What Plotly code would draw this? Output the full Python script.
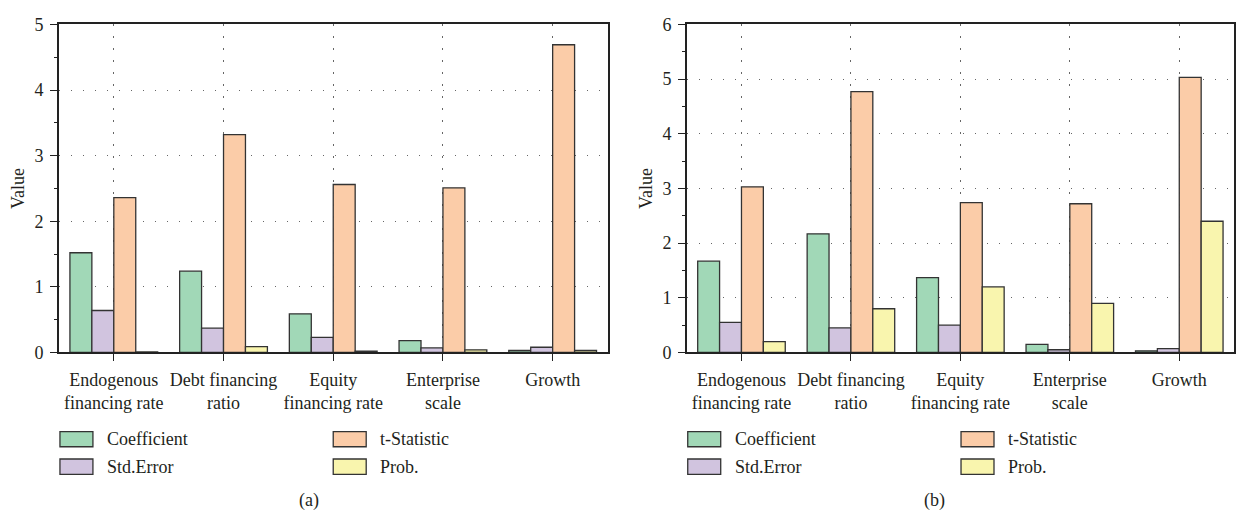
import plotly.graph_objects as go

# Regression variables shown on the category axis
categories = ["Endogenous financing rate", "Debt financing ratio",
              "Equity financing rate", "Enterprise scale", "Growth"]
tick_labels = ["Endogenous<br>financing rate", "Debt financing<br>ratio",
               "Equity<br>financing rate", "Enterprise<br>scale", "Growth"]

series_names = ["Coefficient", "Std.Error", "t-Statistic", "Prob."]

# Panel (a)
coef_a = [1.52, 1.24, 0.59, 0.18, 0.03]
se_a = [0.64, 0.37, 0.23, 0.07, 0.08]
t_a = [2.36, 3.32, 2.56, 2.51, 4.69]
p_a = [0.01, 0.09, 0.02, 0.04, 0.03]

# Panel (b)
coef_b = [1.67, 2.17, 1.37, 0.15, 0.03]
se_b = [0.55, 0.45, 0.50, 0.05, 0.07]
t_b = [3.03, 4.77, 2.74, 2.72, 5.03]
p_b = [0.20, 0.80, 1.20, 0.90, 2.40]

colors = ["#a1d8b7", "#d1c4df", "#fbcca8", "#f9f5ae"]
edge = "#333333"
ink = "#231f20"
FONT = "Liberation Serif"

W, H = 1236, 527


def px_x(v):
    return v / W


def px_y(v):
    return 1 - v / H


fig = go.Figure()

panels = [
    ("x", "y", [coef_a, se_a, t_a, p_a]),
    ("x2", "y2", [coef_b, se_b, t_b, p_b]),
]
for xa, ya, values in panels:
    for name, vals, col in zip(series_names, values, colors):
        fig.add_trace(go.Bar(
            x=categories, y=vals, name=name, xaxis=xa, yaxis=ya,
            marker=dict(color=col, line=dict(color=edge, width=1.3)),
            showlegend=False,
        ))

common_x = dict(
    type="category", categoryorder="array", categoryarray=categories,
    tickmode="array", tickvals=categories, ticktext=tick_labels,
    range=[-0.5, 4.5],
    showline=True, mirror=True, linecolor="#222", linewidth=1.5,
    ticks="outside", ticklen=7, tickcolor="#222", tickwidth=1.3,
    ticklabelstandoff=3,
    showgrid=True, gridcolor="#666", gridwidth=1.3, griddash="1.5px,10.5px",
    tickfont=dict(family=FONT, size=18, color=ink),
    zeroline=False,
)
common_y = dict(
    showline=True, mirror=True, linecolor="#222", linewidth=1.5,
    ticks="outside", ticklen=7, tickcolor="#222", tickwidth=1.3,
    ticklabelstandoff=3,
    dtick=1, tick0=0,
    minor=dict(dtick=0.5, ticks="outside", ticklen=3, tickcolor="#222",
               showgrid=False),
    showgrid=True, gridcolor="#666", gridwidth=1.3, griddash="1.5px,10.5px",
    tickfont=dict(family=FONT, size=18, color=ink),
    zeroline=False,
    title=dict(text="Value", font=dict(family=FONT, size=18, color=ink),
               standoff=5),
)

y_dom = [px_y(356), px_y(15)]
fig.update_layout(
    width=W, height=H, autosize=False,
    margin=dict(l=0, r=0, t=0, b=0),
    paper_bgcolor="white", plot_bgcolor="white",
    barmode="group", bargap=0.2, bargroupgap=0,
    xaxis=dict(common_x, domain=[px_x(59), px_x(608)], anchor="y"),
    yaxis=dict(common_y, domain=y_dom, range=[0, 5], anchor="x"),
    xaxis2=dict(common_x, domain=[px_x(687.3), px_x(1235)], anchor="y2"),
    yaxis2=dict(common_y, domain=y_dom, range=[0, 6], anchor="x2"),
)

# Legend blocks under each panel: swatch + label, two columns
legend_rows = [(438.3, 454.0), (466.7, 482.7)]
legend_layout = [(0, 0), (1, 0), (0, 1), (1, 1)]  # (row, col) per series
for axis_left in (59, 687.3):
    for (row, col), name, color in zip(legend_layout, series_names, colors):
        x0 = axis_left + 1 + col * 273.5
        y0, y1 = legend_rows[row]
        fig.add_shape(
            type="rect", xref="paper", yref="paper",
            x0=px_x(x0), x1=px_x(x0 + 33), y0=px_y(y1), y1=px_y(y0),
            fillcolor=color, line=dict(color=edge, width=1.3),
        )
        fig.add_annotation(
            xref="paper", yref="paper", x=px_x(x0 + 45), y=px_y((y0 + y1) / 2),
            text=name, showarrow=False, xanchor="left", yanchor="middle",
            font=dict(family=FONT, size=18, color=ink),
        )

# Panel captions
for label, cx in (("(a)", 309.5), ("(b)", 935)):
    fig.add_annotation(
        xref="paper", yref="paper", x=px_x(cx), y=px_y(510),
        text=label, showarrow=False, xanchor="center", yanchor="middle",
        font=dict(family=FONT, size=18, color=ink),
    )

fig.write_html("out.html")
